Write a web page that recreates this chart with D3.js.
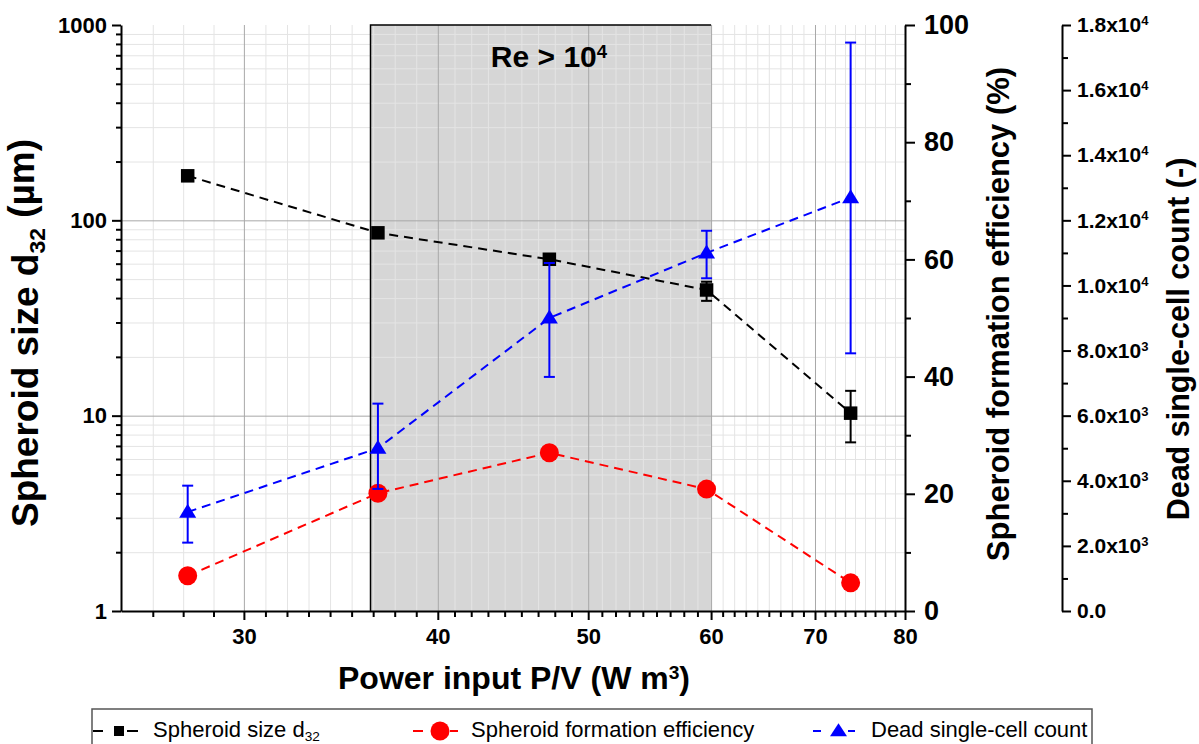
<!DOCTYPE html>
<html><head><meta charset="utf-8">
<script src="https://cdn.jsdelivr.net/npm/d3@7"></script>
<style>
body{margin:0;background:#fff;}
svg{display:block;font-family:"Liberation Sans",Arial,sans-serif;}
</style></head><body>
<svg id="c" width="1199" height="744"></svg>
<script>
// ---- data ----
const powerInput = [27.6, 36.6, 47.2, 59.6, 73.8];
const spheroidSize = [169, 86.3, 63.2, 44.0, 10.3];
const spheroidSizeLow = [164, 83.5, 60.0, 38.7, 7.3];
const spheroidSizeHigh = [174, 89, 66.5, 48.5, 13.4];
const formationEfficiency = [6.0, 20.1, 27.0, 20.8, 4.8];
const deadCellCount = [3040, 5000, 9000, 11000, 12700];
const deadCellLow = [2100, 3750, 7190, 10220, 7915];
const deadCellHigh = [3850, 6370, 10690, 11680, 17460];
const turbulentRange = [36.2, 60];
const xTicks = [30, 40, 50, 60, 70, 80];
const sizeTicks = [1, 10, 100, 1000];
const effTicks = [0, 20, 40, 60, 80, 100];
const effMinor = [10, 30, 50, 70, 90];
const deadTicks = [0, 2000, 4000, 6000, 8000, 10000, 12000, 14000, 16000, 18000];
const deadMinor = [1000, 3000, 5000, 7000, 9000, 11000, 13000, 15000, 17000];
const deadTickLabels = ["0.0","2.0x10^3","4.0x10^3","6.0x10^3","8.0x10^3","1.0x10^4","1.2x10^4","1.4x10^4","1.6x10^4","1.8x10^4"];
const legendLabels = ["Spheroid size d", "Spheroid formation efficiency", "Dead single-cell count"];

// ---- layout ----
const L = 121, R = 905, T = 25, B = 611, R2 = 1062;
const x = d3.scaleLog().domain([25, 80]).range([L, R]);
const yS = d3.scaleLog().domain([1, 1000]).range([B, T]);
const yE = d3.scaleLinear().domain([0, 100]).range([B, T]);
const yD = d3.scaleLinear().domain([0, 18000]).range([B, T]);

const svg = d3.select("#c");
svg.append("rect").attr("width",1199).attr("height",744).attr("fill","#fff");

// shaded region
svg.append("rect")
  .attr("x", x(turbulentRange[0])).attr("y", T)
  .attr("width", x(turbulentRange[1]) - x(turbulentRange[0]))
  .attr("height", B - T).attr("fill", "#d6d6d6");

// minor tick values
const xMinor = [];
const ext = [20, ...xTicks];
for (let i = 0; i < ext.length - 1; i++) {
  const a = ext[i], b = ext[i+1];
  for (let k = 1; k <= 8; k++) {
    const v = a * Math.pow(b / a, k / 9);
    if (v > 25.2 && v < 80) xMinor.push(v);
  }
}
const yMinor = [];
[1, 10, 100].forEach(d => { for (let m = 2; m <= 9; m++) yMinor.push(d * m); });

function grid(g, color) {
  g.select(".domain").remove();
  g.selectAll("line").attr("stroke", color).attr("stroke-width", 1);
}
// minor grid
svg.append("g").attr("transform", `translate(0,${B})`)
  .call(d3.axisBottom(x).tickValues(xMinor).tickSize(-(B - T)).tickFormat(""))
  .call(g => grid(g, "#e4e4e4"));
svg.append("g").attr("transform", `translate(${L},0)`)
  .call(d3.axisLeft(yS).tickValues(yMinor).tickSize(-(R - L)).tickFormat(""))
  .call(g => grid(g, "#e4e4e4"));
// major grid
svg.append("g").attr("transform", `translate(0,${B})`)
  .call(d3.axisBottom(x).tickValues(xTicks.filter(v => v < 80)).tickSize(-(B - T)).tickFormat(""))
  .call(g => grid(g, "#a8a8a8"));
svg.append("g").attr("transform", `translate(${L},0)`)
  .call(d3.axisLeft(yS).tickValues([10, 100]).tickSize(-(R - L)).tickFormat(""))
  .call(g => grid(g, "#a8a8a8"));

// shade border (left + top)
svg.append("path")
  .attr("d", `M${x(turbulentRange[0])},${B}V${T}H${x(turbulentRange[1])}`)
  .attr("fill", "none").attr("stroke", "#000").attr("stroke-width", 1.5);

svg.append("text").attr("x", 549).attr("y", 67).attr("text-anchor", "middle")
  .attr("font-size", 30).attr("font-weight", "bold")
  .text("Re > 10")
  .append("tspan").attr("dy", "-0.5em").attr("font-size", "0.62em").text("4");

// ---- axes ----
function styleAxis(g, fs) {
  g.attr("font-family", null).attr("font-size", fs).attr("font-weight", "bold");
  g.select(".domain").attr("stroke", "#000").attr("stroke-width", 2);
  g.selectAll(".tick line").attr("stroke", "#000").attr("stroke-width", 2);
  g.selectAll(".tick text").attr("fill", "#000");
}
function minorAxis(g) {
  g.select(".domain").remove();
  g.selectAll(".tick line").attr("stroke", "#000").attr("stroke-width", 2);
}
// bottom
svg.append("g").attr("transform", `translate(0,${B})`)
  .call(d3.axisBottom(x).tickValues(xMinor).tickSize(6).tickFormat("")).call(minorAxis);
svg.append("g").attr("transform", `translate(0,${B})`)
  .call(d3.axisBottom(x).tickValues(xTicks).tickSize(9).tickSizeOuter(0).tickPadding(8).tickFormat(d3.format("d")))
  .call(g => styleAxis(g, 22));
// left
svg.append("g").attr("transform", `translate(${L},0)`)
  .call(d3.axisLeft(yS).tickValues(yMinor).tickSize(5).tickFormat("")).call(minorAxis);
svg.append("g").attr("transform", `translate(${L},0)`)
  .call(d3.axisLeft(yS).tickValues(sizeTicks).tickSize(9).tickSizeOuter(0).tickPadding(5).tickFormat(d3.format("d")))
  .call(g => styleAxis(g, 22));
// right 1
svg.append("g").attr("transform", `translate(${R},0)`)
  .call(d3.axisRight(yE).tickValues(effMinor).tickSize(6).tickFormat("")).call(minorAxis);
svg.append("g").attr("transform", `translate(${R},0)`)
  .call(d3.axisRight(yE).tickValues(effTicks).tickSize(10).tickSizeOuter(0).tickPadding(9).tickFormat(d3.format("d")))
  .call(g => styleAxis(g, 27));
// right 2
svg.append("g").attr("transform", `translate(${R2},0)`)
  .call(d3.axisRight(yD).tickValues(deadMinor).tickSize(6).tickFormat("")).call(minorAxis);
svg.append("g").attr("transform", `translate(${R2},0)`)
  .call(d3.axisRight(yD).tickValues(deadTicks).tickSize(9).tickSizeOuter(0).tickPadding(6).tickFormat((d, i) => deadTickLabels[i]))
  .call(g => styleAxis(g, 21))
  .call(g => g.selectAll(".tick text").each(function(d, i) {
    const parts = deadTickLabels[i].split("^");
    const t = d3.select(this).text(parts[0]);
    if (parts[1]) t.append("tspan").attr("dy", "-0.55em").attr("font-size", "0.62em").text(parts[1]);
  }));

// ---- axis titles ----
const lt = svg.append("text").attr("transform", `translate(38,333) rotate(-90)`)
  .attr("text-anchor", "middle").attr("font-size", 37).attr("font-weight", "bold");
lt.append("tspan").text("Spheroid size d");
lt.append("tspan").attr("dy", "0.3em").attr("font-size", "0.62em").text("32");
lt.append("tspan").attr("dy", "-0.3em").text("\u00a0(\u00b5m)");

svg.append("text").attr("transform", `translate(1009,314) rotate(-90)`)
  .attr("text-anchor", "middle").attr("font-size", 31).attr("font-weight", "bold")
  .text("Spheroid formation efficiency (%)");
svg.append("text").attr("transform", `translate(1189,339) rotate(-90)`)
  .attr("text-anchor", "middle").attr("font-size", 30.5).attr("font-weight", "bold")
  .text("Dead single-cell count (-)");

const xt = svg.append("text").attr("x", 514).attr("y", 689).attr("text-anchor", "middle")
  .attr("font-size", 32).attr("font-weight", "bold");
xt.append("tspan").text("Power input P/V (W m");
xt.append("tspan").attr("dy", "-0.5em").attr("font-size", "0.6em").text("3");
xt.append("tspan").attr("dy", "0.3em").text(")");

// ---- series ----
const idx = d3.range(powerInput.length);
const dash = "9,6";
function triPath(w, h) { return `M0,${-h*0.6}L${w/2},${h*0.4}L${-w/2},${h*0.4}Z`; }

// efficiency (red)
svg.append("path").datum(idx)
  .attr("d", d3.line().x(i => x(powerInput[i])).y(i => yE(formationEfficiency[i])))
  .attr("fill", "none").attr("stroke", "#ff0000").attr("stroke-width", 2).attr("stroke-dasharray", dash);
svg.selectAll(".eff").data(idx).join("circle")
  .attr("cx", i => x(powerInput[i])).attr("cy", i => yE(formationEfficiency[i]))
  .attr("r", 9.5).attr("fill", "#ff0000");

// spheroid size (black)
svg.append("path").datum(idx)
  .attr("d", d3.line().x(i => x(powerInput[i])).y(i => yS(spheroidSize[i])))
  .attr("fill", "none").attr("stroke", "#000").attr("stroke-width", 2).attr("stroke-dasharray", dash);
function errBars(lo, hi, ys, color) {
  const g = svg.append("g").attr("stroke", color).attr("stroke-width", 2);
  idx.forEach(i => {
    const cx = x(powerInput[i]);
    g.append("line").attr("x1", cx).attr("x2", cx).attr("y1", ys(lo[i])).attr("y2", ys(hi[i]));
    g.append("line").attr("x1", cx - 5.5).attr("x2", cx + 5.5).attr("y1", ys(lo[i])).attr("y2", ys(lo[i]));
    g.append("line").attr("x1", cx - 5.5).attr("x2", cx + 5.5).attr("y1", ys(hi[i])).attr("y2", ys(hi[i]));
  });
}
errBars(spheroidSizeLow, spheroidSizeHigh, yS, "#000");
svg.selectAll(".sz").data(idx).join("rect")
  .attr("x", i => x(powerInput[i]) - 6.75).attr("y", i => yS(spheroidSize[i]) - 6.75)
  .attr("width", 13.5).attr("height", 13.5).attr("fill", "#000");

// dead cells (blue)
svg.append("path").datum(idx)
  .attr("d", d3.line().x(i => x(powerInput[i])).y(i => yD(deadCellCount[i])))
  .attr("fill", "none").attr("stroke", "#0000ff").attr("stroke-width", 2).attr("stroke-dasharray", dash);
errBars(deadCellLow, deadCellHigh, yD, "#0000ff");
svg.selectAll(".dc").data(idx).join("path")
  .attr("transform", i => `translate(${x(powerInput[i])},${yD(deadCellCount[i])})`)
  .attr("d", triPath(17, 14)).attr("fill", "#0000ff");

// ---- legend ----
const lg = svg.append("g");
lg.append("rect").attr("x", 92).attr("y", 709).attr("width", 1000).attr("height", 60)
  .attr("fill", "#fff").attr("stroke", "#555").attr("stroke-width", 1.5);
const ly = 731;
function seg(x1, x2, c) { lg.append("line").attr("x1", x1).attr("x2", x2).attr("y1", ly).attr("y2", ly).attr("stroke", c).attr("stroke-width", 2); }
seg(93, 103, "#000"); seg(127, 138, "#000");
lg.append("rect").attr("x", 114).attr("y", ly - 5).attr("width", 10).attr("height", 10).attr("fill", "#000");
seg(413, 423, "#ff0000"); seg(450, 458, "#ff0000");
lg.append("circle").attr("cx", 440).attr("cy", ly).attr("r", 9.5).attr("fill", "#ff0000");
seg(813, 821, "#0000ff"); seg(848, 855, "#0000ff");
lg.append("path").attr("transform", `translate(838.5,${ly})`).attr("d", triPath(17, 13)).attr("fill", "#0000ff");

const l1 = lg.append("text").attr("x", 153).attr("y", 737).attr("font-size", 22);
l1.append("tspan").text(legendLabels[0]);
l1.append("tspan").attr("dy", "0.3em").attr("font-size", "0.62em").text("32");
lg.append("text").attr("x", 471).attr("y", 737).attr("font-size", 22).text(legendLabels[1]);
lg.append("text").attr("x", 871).attr("y", 737).attr("font-size", 22).text(legendLabels[2]);
</script>
</body></html>
